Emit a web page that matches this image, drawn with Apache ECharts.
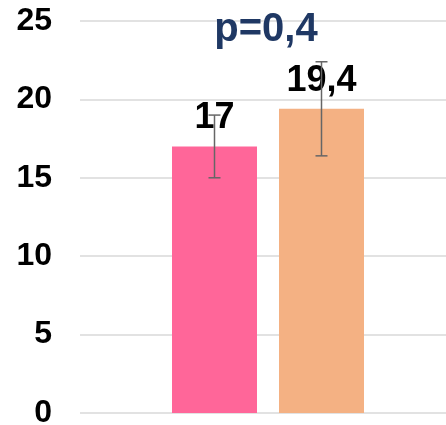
<!DOCTYPE html>
<html>
<head>
<meta charset="utf-8">
<script src="https://cdn.jsdelivr.net/npm/echarts@6/dist/echarts.min.js"></script>
<style>html,body{margin:0;padding:0;background:#fff}#c{width:446px;height:425px}</style>
</head>
<body>
<div id="c"></div>
<script>
var categories = [''];
var seriesNames = ['A', 'B'];
var values = [17, 19.4];
var labels = ['17', '19,4'];
var errLow = [15, 16.4];
var errHigh = [19, 22.4];
var colors = ['#FF6699', '#F4B183'];
var pText = 'p=0,4';
var yTicks = {min: 0, max: 25, interval: 5};

var FONT = 'Liberation Sans, Arial, sans-serif';
var BAR_W = 85, BAR_GAP = 22;
var chart = echarts.init(document.getElementById('c'), null, {renderer: 'canvas'});

var series = [];
values.forEach(function (v, i) {
  series.push({
    name: seriesNames[i], type: 'bar', barWidth: BAR_W, barGap: (BAR_GAP / BAR_W * 100) + '%',
    data: [v], itemStyle: {color: colors[i]},
    label: {show: true, position: 'top', distance: 10, formatter: labels[i],
      fontFamily: FONT, fontWeight: 'bold', fontSize: 36, color: '#000'},
    z: 2
  });
});
values.forEach(function (v, i) {
  var offset = (i - (values.length - 1) / 2) * (BAR_W + BAR_GAP);
  series.push({
    type: 'custom', z: 5,
    data: [[0, errLow[i], errHigh[i]]],
    renderItem: function (params, api) {
      var lo = api.coord([api.value(0), api.value(1)]);
      var hi = api.coord([api.value(0), api.value(2)]);
      var x = lo[0] + offset, cap = 6;
      var st = {stroke: '#666666', lineWidth: 1.5};
      return {type: 'group', children: [
        {type: 'line', shape: {x1: x, y1: lo[1], x2: x, y2: hi[1]}, style: st},
        {type: 'line', shape: {x1: x - cap, y1: lo[1], x2: x + cap, y2: lo[1]}, style: st},
        {type: 'line', shape: {x1: x - cap, y1: hi[1], x2: x + cap, y2: hi[1]}, style: st}
      ]};
    }
  });
});

chart.setOption({
  animation: false,
  backgroundColor: '#fff',
  grid: {left: 80, right: -10, top: 21, bottom: 12, outerBoundsMode: 'none', containLabel: false},
  xAxis: {type: 'category', data: categories, axisLine: {show: false}, axisTick: {show: false}, axisLabel: {show: false}},
  yAxis: {type: 'value', min: yTicks.min, max: yTicks.max, interval: yTicks.interval,
    axisLine: {show: false}, axisTick: {show: false},
    axisLabel: {fontFamily: FONT, fontWeight: 'bold', fontSize: 32, color: '#000', margin: 28},
    splitLine: {lineStyle: {color: '#d9d9d9', width: 1.5}}},
  graphic: [{type: 'text', x: 266, y: 30, z: 10,
    style: {text: pText, align: 'center', verticalAlign: 'middle',
      font: 'bold 40px ' + FONT, fill: '#1F3864'}}],
  series: series
});
</script>
</body>
</html>
